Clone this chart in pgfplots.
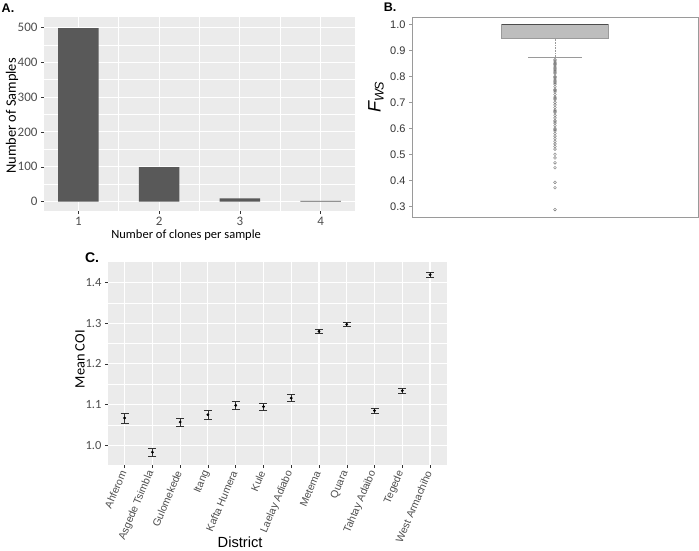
\documentclass[border=0pt]{standalone}
\usepackage{fontspec}
\setmainfont{Carlito}
\newfontfamily\arial{Liberation Sans}
\usepackage{pgfplots}
\usepackage{pgfplotstable}
\pgfplotsset{compat=1.18}
\definecolor{ggbg}{HTML}{EBEBEB}
\definecolor{ggbar}{HTML}{595959}
\definecolor{ggtick}{HTML}{333333}
\definecolor{gglab}{HTML}{4D4D4D}
\definecolor{boxfill}{HTML}{BDBDBD}
\definecolor{boxdraw}{HTML}{9A9A9A}

\pgfplotstableread{
x y
0.5 0.865
0.5 0.860
0.5 0.855
0.5 0.850
0.5 0.845
0.5 0.840
0.5 0.835
0.5 0.830
0.5 0.825
0.5 0.820
0.5 0.815
0.5 0.810
0.5 0.800
0.5 0.795
0.5 0.790
0.5 0.785
0.5 0.780
0.5 0.775
0.5 0.770
0.5 0.760
0.5 0.750
0.5 0.745
0.5 0.740
0.5 0.730
0.5 0.720
0.5 0.715
0.5 0.710
0.5 0.700
0.5 0.690
0.5 0.680
0.5 0.670
0.5 0.665
0.5 0.660
0.5 0.650
0.5 0.640
0.5 0.630
0.5 0.625
0.5 0.620
0.5 0.610
0.5 0.600
0.5 0.595
0.5 0.590
0.5 0.580
0.5 0.570
0.5 0.560
0.5 0.550
0.5 0.540
0.5 0.530
0.5 0.520
0.5 0.500
0.5 0.486
0.5 0.467
0.5 0.448
0.5 0.392
0.5 0.371
0.5 0.287
}\outliers

\pgfplotstableread{
x y err
1  1.067 0.012
2  0.983 0.0095
3  1.057 0.0095
4  1.075 0.012
5  1.098 0.009
6  1.095 0.008
7  1.116 0.0085
8  1.280 0.0045
9  1.297 0.005
10 1.085 0.007
11 1.134 0.006
12 1.419 0.0055
}\coi

\begin{document}
\begin{tikzpicture}
\useasboundingbox (0pt,0pt) rectangle (699pt,550pt);

% ---------- Panel A ----------
\begin{axis}[
  at={(44pt,339pt)}, anchor=south west, scale only axis,
  width=311pt, height=194pt,
  xmin=0.575, xmax=4.425, ymin=-27, ymax=530,
  axis background/.style={fill=ggbg},
  axis line style={draw=none},
  xtick={1,2,3,4}, ytick={0,100,200,300,400,500},
  minor xtick={1.5,2.5,3.5}, minor ytick={50,150,250,350,450},
  grid=both,
  major grid style={white, line width=1.1pt},
  minor grid style={white, line width=0.5pt},
  tick align=outside, major tick length=3pt, minor tick length=0pt,
  tick style={ggtick, line width=0.5pt},
  xtick pos=bottom, ytick pos=left,
  tick label style={font=\fontsize{13}{15}\selectfont, text=gglab},
  /pgf/number format/assume math mode=true,
  xlabel={Number of clones per sample},
  ylabel={Number of Samples},
  xlabel style={font=\fontsize{12.5}{14}\selectfont, at={(axis description cs:0.457,0)}, anchor=center, yshift=-24pt},
  ylabel style={font=\fontsize{14.4}{16}\selectfont, at={(axis description cs:0,0.49)}, anchor=center, yshift=32pt},
]
\addplot[ybar, bar width=0.5, fill=ggbar, draw=none] coordinates {(1,498) (2,99) (3,9) (4,2)};
\end{axis}

% ---------- Panel B ----------
\begin{axis}[
  at={(412pt,333pt)}, anchor=south west, scale only axis,
  width=286pt, height=200pt,
  xmin=0, xmax=1, ymin=0.2585, ymax=1.0285,
  axis line style={boxdraw, line width=0.6pt},
  xtick=\empty,
  ytick={0.3,0.4,0.5,0.6,0.7,0.8,0.9,1.0},
  ytick pos=left, tick align=outside, major tick length=3pt,
  tick style={boxdraw, line width=0.5pt},
  yticklabel style={font=\arial\fontsize{11}{13}\selectfont, text=ggtick,
    /pgf/number format/.cd, fixed, fixed zerofill, precision=1},
  /pgf/number format/assume math mode=true,
  ylabel={\arial\itshape F\textsubscript{WS}},
  ylabel style={font=\fontsize{18}{20}\selectfont, at={(axis description cs:0,0.6)}, anchor=center, yshift=36pt},
]
\addplot[fill=boxfill, draw=boxdraw, line width=0.6pt] coordinates {(0.3135,0.945) (0.6865,0.945) (0.6865,1.0) (0.3135,1.0)} -- cycle;
\addplot[draw=black!70, line width=1.2pt] coordinates {(0.3135,1.0) (0.6865,1.0)};
\addplot[draw=boxdraw, densely dotted, line width=0.6pt] coordinates {(0.5,0.945) (0.5,0.872)};
\addplot[draw=boxdraw, line width=0.6pt] coordinates {(0.406,0.872) (0.594,0.872)};
\addplot[only marks, mark=o, mark size=1.4pt, mark options={draw=black!55, line width=0.4pt}] table[x=x,y=y] {\outliers};
\end{axis}

% ---------- Panel C ----------
\begin{axis}[
  at={(108pt,85pt)}, anchor=south west, scale only axis,
  width=338.7pt, height=203.3pt,
  xmin=0.4, xmax=12.6, ymin=0.9515, ymax=1.451,
  axis background/.style={fill=ggbg},
  axis line style={draw=none},
  xtick={1,...,12},
  xticklabels={Ahferom, Asgede Tsimbla, Gulomekede, Itang, Kafta Humera, Kule, Laelay Adiabo, Metema, Quara, Tahtay Adaibo, Tegede, West Armachiho},
  ytick={1.0,1.1,1.2,1.3,1.4},
  minor ytick={1.05,1.15,1.25,1.35},
  grid=both,
  major grid style={white, line width=1.1pt},
  minor grid style={white, line width=0.5pt},
  tick align=outside, major tick length=3pt, minor tick length=0pt,
  tick style={ggtick, line width=0.5pt},
  xtick pos=bottom, ytick pos=left,
  yticklabel style={font=\fontsize{12.5}{14}\selectfont, text=gglab,
    /pgf/number format/.cd, fixed, fixed zerofill, precision=1},
  xticklabel style={font=\arial\fontsize{10.5}{12}\selectfont, text=gglab, rotate=67, anchor=east},
  /pgf/number format/assume math mode=true,
  xlabel={\arial District},
  ylabel={Mean COI},
  xlabel style={font=\fontsize{14.7}{16}\selectfont, at={(axis description cs:0.39,0)}, anchor=center, yshift=-77pt},
  ylabel style={font=\fontsize{14.4}{16}\selectfont, at={(axis description cs:0,0.52)}, anchor=center, yshift=28pt},
]
\addplot[only marks, mark=*, mark size=1.2pt, color=black,
  error bars/.cd, y dir=both, y explicit,
  error bar style={ggtick, line width=0.6pt},
  error mark options={rotate=90, mark size=4pt, line width=0.6pt, ggtick}]
  table[x=x, y=y, y error=err] {\coi};
\end{axis}

\node[font=\arial\bfseries\fontsize{12.5}{14}\selectfont] at (8pt,542pt) {A.};
\node[font=\arial\bfseries\fontsize{12.5}{14}\selectfont] at (390pt,543pt) {B.};
\node[font=\arial\bfseries\fontsize{14}{16}\selectfont] at (92pt,292pt) {C.};
\end{tikzpicture}
\end{document}
